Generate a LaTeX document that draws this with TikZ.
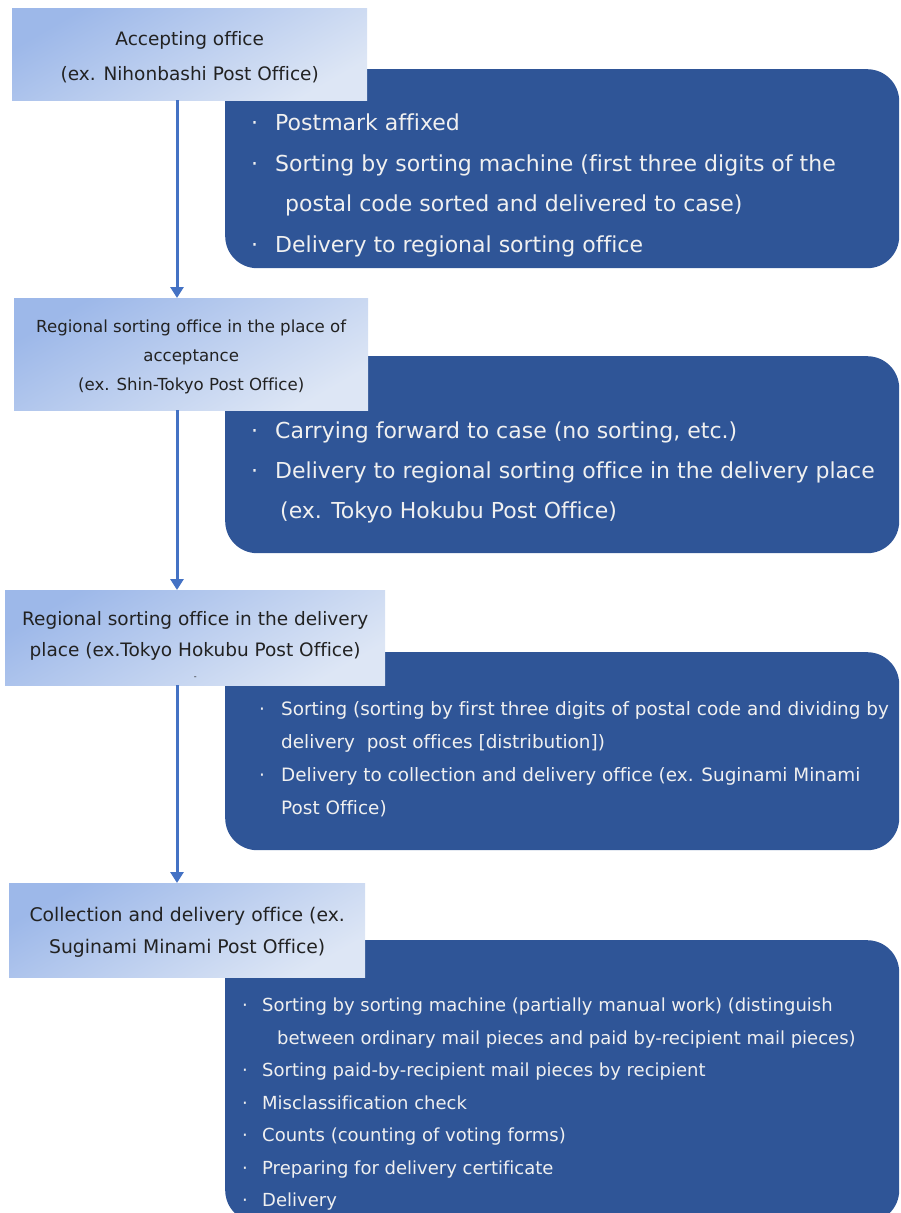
\documentclass[tikz,border=0pt]{standalone}
\usepackage{fontspec}
\setmainfont[Ligatures={NoCommon}]{DejaVu Sans}
\usetikzlibrary{arrows.meta}

\definecolor{officeA}{HTML}{9DB8E9}
\definecolor{officeB}{HTML}{DDE6F5}
\definecolor{taskblue}{HTML}{2F5597}
\definecolor{flowblue}{HTML}{4472C4}
\definecolor{inkgray}{HTML}{222222}

\newcommand{\dotitem}[1][24pt]{\makebox[#1][l]{·}}
\newcommand{\lift}[1]{\rule{0pt}{#1}}

\begin{document}
\begin{tikzpicture}[x=1pt,y=-1pt,
	office/.style={rectangle,anchor=north west,inner sep=0pt,align=center,text=inkgray,
		top color=officeA,bottom color=officeB,shading angle=30},
	task/.style={rectangle,anchor=north west,rounded corners=32pt,fill=taskblue,minimum width=674pt},
	tasktext/.style={anchor=north west,inner sep=0pt,align=left,text=white!94!black},
	flow/.style={draw=flowblue,line width=3pt,-{Triangle[width=13pt,length=11pt]}}]
\useasboundingbox (0,0) rectangle (900,1213);
\clip (0,0) rectangle (900,1213);

% task panels (behind the office boxes)
\node [task,minimum height=199pt] (b1) at (225,69) {};
\node [task,minimum height=197pt] (b2) at (225,356) {};
\node [task,minimum height=198pt] (b3) at (225,652) {};
\node [task,minimum height=282pt] (b4) at (225,940) {};

\node [tasktext,font=\fontsize{22}{40.5}\selectfont] (t1) at (251,114)
	{\dotitem Postmark affixed\\
	 \dotitem Sorting by sorting machine (first three digits of the\\
	 \hspace*{34pt}postal code sorted and delivered to case)\\
	 \dotitem Delivery to regional sorting office};
\node [tasktext,font=\fontsize{22}{40}\selectfont] (t2) at (251,422)
	{\dotitem Carrying forward to case (no sorting, etc.)\\
	 \dotitem Delivery to regional sorting office in the delivery place\\
	 \hspace*{29pt}(ex. Tokyo Hokubu Post Office)};
\node [tasktext,font=\fontsize{18.4}{33}\selectfont] (t3) at (259,701)
	{\dotitem[22pt]Sorting (sorting by first three digits of postal code and dividing by\\
	 \hspace*{22pt}delivery \ post offices [distribution])\\
	 \dotitem[22pt]Delivery to collection and delivery office (ex. Suginami Minami\\
	 \hspace*{22pt}Post Office)};
\node [tasktext,font=\fontsize{18}{32.5}\selectfont] (t4) at (242,998)
	{\dotitem[20pt]Sorting by sorting machine (partially manual work) (distinguish\\
	 \hspace*{35pt}between ordinary mail pieces and paid by-recipient mail pieces)\\
	 \dotitem[20pt]Sorting paid-by-recipient mail pieces by recipient\\
	 \dotitem[20pt]Misclassification check\\
	 \dotitem[20pt]Counts (counting of voting forms)\\
	 \dotitem[20pt]Preparing for delivery certificate\\
	 \dotitem[20pt]Delivery};

% office boxes
\node [office,minimum width=355pt,minimum height=92pt,font=\fontsize{18.5}{35}\selectfont] (a1) at (12,8)
	{\lift{20pt}Accepting office\\(ex. Nihonbashi Post Office)};
\node [office,minimum width=354pt,minimum height=112pt,font=\fontsize{16.6}{29}\selectfont] (a2) at (14,298)
	{\lift{19pt}Regional sorting office in the place of\\acceptance\\(ex. Shin-Tokyo Post Office)};
\node [office,minimum width=380pt,minimum height=95pt,font=\fontsize{18.5}{31}\selectfont] (a3) at (5,590)
	{\lift{30pt}Regional sorting office in the delivery\\place (ex.Tokyo Hokubu Post Office)\\[-8pt]{\fontsize{8}{8}\selectfont -}};
\node [office,minimum width=356pt,minimum height=94pt,font=\fontsize{18.8}{32}\selectfont] (a4) at (9,883)
	{\lift{18pt}Collection and delivery office (ex.\\Suginami Minami Post Office)};

\coordinate (spine) at (177,0);
\draw [flow] (a1.south -| spine) -- (a2.north -| spine);
\draw [flow] (a2.south -| spine) -- (a3.north -| spine);
\draw [flow] (a3.south -| spine) -- (a4.north -| spine);
\end{tikzpicture}
\end{document}
